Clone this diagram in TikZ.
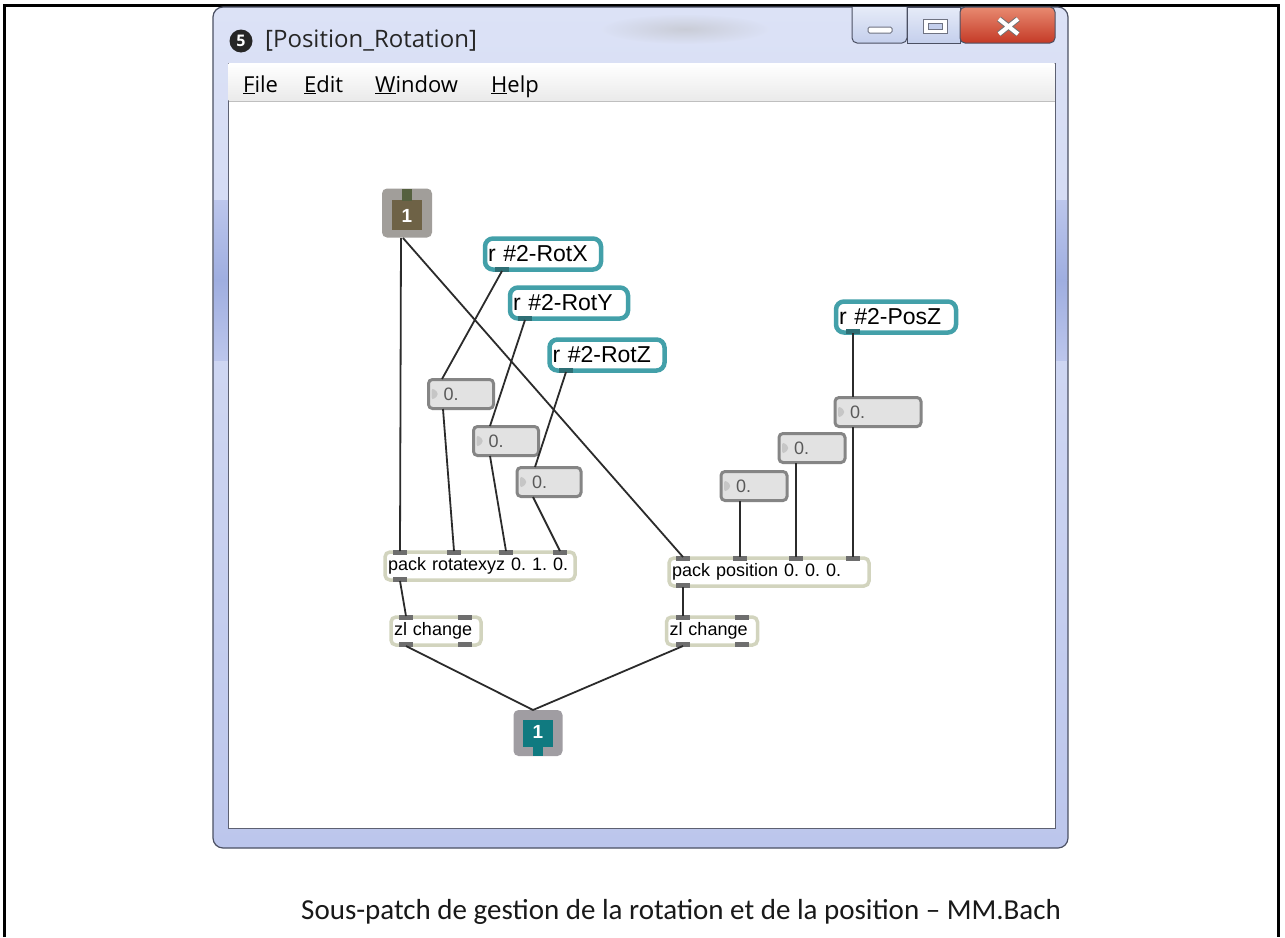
\documentclass[tikz,border=0pt]{standalone}
\usepackage{fontspec}
\setmainfont{Liberation Sans}
\newfontfamily\uifont{Open Sans}
\newfontfamily\capfont{Carlito}
\usetikzlibrary{calc}
\frenchspacing

\definecolor{frameblue}{HTML}{BCC6EC}
\definecolor{framelight}{HTML}{DCE2F6}
\definecolor{framedeep}{HTML}{9FAEE0}
\definecolor{framedark}{HTML}{4B5063}
\definecolor{cord}{HTML}{2B2B2B}
\definecolor{objborder}{HTML}{D2D4BE}
\definecolor{tabgray}{HTML}{6E6E6E}
\definecolor{recvborder}{HTML}{43A0A9}
\definecolor{recvtab}{HTML}{2E6F75}
\definecolor{numfill}{HTML}{E2E2E2}
\definecolor{numborder}{HTML}{858585}
\definecolor{numtri}{HTML}{C6C6C6}
\definecolor{inletgray}{HTML}{A19E9A}
\definecolor{inletbrown}{HTML}{6E6246}
\definecolor{inlettab}{HTML}{55603F}
\definecolor{outletgray}{HTML}{A09DA2}
\definecolor{outletteal}{HTML}{107A80}
\definecolor{closered}{HTML}{C43A27}
\definecolor{closelight}{HTML}{E88A70}
\definecolor{btnblue}{HTML}{C4CFEC}
\definecolor{btnlight}{HTML}{E6EBF8}

\newcommand\intab[1]{\fill[tabgray] ($(#1)+(-7,-1)$) rectangle ($(#1)+(7,4)$);}
\newcommand\outtab[1]{\fill[tabgray] ($(#1)+(-7,-4)$) rectangle ($(#1)+(7,1)$);}
\newcommand\recvtabat[1]{\fill[recvtab] ($(#1)+(-7,-4)$) rectangle ($(#1)+(7,1)$);}

\tikzset{
  objbox/.style={draw=objborder, line width=3.5pt, fill=white, rounded corners=5pt,
    inner xsep=3pt, inner ysep=0pt, minimum height=28pt, align=left,
    font=\fontsize{18}{18}\selectfont},
  recvbox/.style={draw=recvborder, line width=4.5pt, fill=white, rounded corners=8pt,
    inner xsep=3pt, inner ysep=0pt, minimum height=31pt, align=left,
    font=\fontsize{23}{23}\selectfont},
  numbox/.style={draw=numborder, line width=3pt, fill=numfill, rounded corners=4pt,
    inner xsep=4pt, inner ysep=0pt, minimum height=29pt, align=left,
    font=\fontsize{18}{18}\selectfont, text=black!65,
    path picture={\fill[numtri] ($(path picture bounding box.west)+(3,-7)$) -- ++(0,14) -- ++(8,-7) -- cycle;}},
  cordline/.style={draw=cord, line width=1.8pt},
  menuitem/.style={font=\uifont\fontsize{22}{22}\selectfont, anchor=base west, inner sep=0pt},
}

\begin{document}
\begin{tikzpicture}[x=1pt,y=-1pt]
\useasboundingbox (0,0) rectangle (1285,937);
\fill[white] (0,0) rectangle (1285,937);
% outer cell border (open at bottom)
\draw[black, line width=3pt] (4,937) -- (4,5) -- (1278,5) -- (1278,937);

% window frame
\draw[framedark, line width=1.2pt, rounded corners=10pt, top color=framelight, bottom color=frameblue]
  (213,7) rectangle (1068,848);
\shade[top color=frameblue, bottom color=framedeep] (214,200) rectangle (228,280);
\shade[top color=framedeep, bottom color=frameblue] (214,280) rectangle (228,360);
\shade[top color=frameblue, bottom color=framedeep] (1055,200) rectangle (1067,280);
\shade[top color=framedeep, bottom color=frameblue] (1055,280) rectangle (1067,360);
\shade[inner color=gray!55, outer color=framelight, opacity=0.5] (600,14) rectangle (770,44);

% title
\node[circle, fill=black!85, minimum size=23pt, inner sep=0pt, text=white,
  font=\uifont\bfseries\fontsize{16}{16}\selectfont] (icon) at (241,41) {5};
\node[anchor=west, inner sep=0pt, font=\uifont\fontsize{24}{24}\selectfont, text=black!85] (title) at (265,41) {[Position\_Rotation]};

% caption buttons
\draw[framedark, line width=1pt, top color=btnlight, bottom color=btnblue, rounded corners=5pt]
  (852,7) -- (852,43) -- (907,43) -- (907,7);
\draw[framedark, line width=1pt, top color=btnlight, bottom color=btnblue]
  (907,7) rectangle (960,43);
\draw[framedark, line width=1pt, top color=closelight, bottom color=closered, rounded corners=5pt]
  (960,7) -- (960,43) -- (1055,43) -- (1055,7) -- cycle;
\draw[framedark!80, fill=white, line width=1pt, rounded corners=1.5pt] (868,27) rectangle (892,33);
\draw[framedark!80, line width=1pt, fill=white] (923,19) rectangle (947,33);
\draw[framedark!80, line width=1pt, fill=btnblue] (928,23) rectangle (942,29);
\coordinate (xa) at (999,19);
\coordinate (xb) at (1018,34);
\coordinate (xc) at (1018,19);
\coordinate (xd) at (999,34);
\draw[black!55, line width=6pt] (xa) -- (xb) (xc) -- (xd);
\draw[white, line width=4pt] (xa) -- (xb) (xc) -- (xd);

% client area and menu bar
\draw[framedark!90, line width=1pt, fill=white] (228,63) rectangle (1055,828);
\shade[top color=white, bottom color=black!8] (228.5,63.5) rectangle (1054.5,100);
\draw[black!25, line width=1pt] (228.5,101) -- (1054.5,101);
\node[menuitem] (mfile) at (243,92) {\underline{F}ile};
\node[menuitem] (medit) at (304,92) {\underline{E}dit};
\node[menuitem] (mwin) at (375,92) {\underline{W}indow};
\node[menuitem] (mhelp) at (491,92) {\underline{H}elp};

% ---------- patch objects ----------
% inlet
\node[fill=inletgray, rounded corners=5pt, minimum width=50pt, minimum height=49pt, inner sep=0pt] (inlet) at (407,213) {};
\fill[inletbrown] (392,200) rectangle (422,230);
\fill[inlettab] (402,189) rectangle (412,201);
\node[text=white, font=\bfseries\fontsize{19}{19}\selectfont] (inlabel) at (407,216) {1};

% outlet
\node[fill=outletgray, rounded corners=5pt, minimum width=49pt, minimum height=46pt, inner sep=0pt] (outlet) at (538,733) {};
\fill[outletteal] (523,720) rectangle (553,747);
\fill[outletteal] (533,745) rectangle (543,756);
\node[text=white, font=\bfseries\fontsize{19}{19}\selectfont] (outlabel) at (538,732) {1};

% receive objects
\node[recvbox, text width=110pt] (rotx) at (543,254) {r \#2-RotX};
\node[recvbox, text width=112pt] (roty) at (569,303) {r \#2-RotY};
\node[recvbox, text width=109pt] (rotz) at (607,355) {r \#2-RotZ};
\node[recvbox, text width=114pt] (posz) at (896,317) {r \#2-PosZ};

% number boxes
\node[numbox, text width=57pt] (nb1) at (461,394) {\hspace*{11pt}0.};
\node[numbox, text width=57pt] (nb2) at (506,441) {\hspace*{11pt}0.};
\node[numbox, text width=56pt] (nb3) at (549,482) {\hspace*{11pt}0.};
\node[numbox, text width=78pt] (nbz) at (878,412) {\hspace*{11pt}0.};
\node[numbox, text width=58pt] (nbm) at (812,448) {\hspace*{11pt}0.};
\node[numbox, text width=58pt] (nbl) at (754,486) {\hspace*{11pt}0.};

% pack and zl boxes
\node[objbox, text width=184pt] (prx) at (480,566) {pack rotatexyz 0. 1. 0.};
\node[objbox, text width=194pt] (ppo) at (769,572) {pack position 0. 0. 0.};
\node[objbox, text width=84pt] (zll) at (436,631) {zl change};
\node[objbox, text width=85pt] (zlr) at (712,631) {zl change};

% ports (named coordinates)
\coordinate (inlet-o) at (401,238);
\coordinate (inlet-o2) at (403,238);
\coordinate (rotx-o) at (502,271);
\coordinate (roty-o) at (525,320);
\coordinate (rotz-o) at (566,372);
\coordinate (posz-o) at (853,333);
\coordinate (nb1-i) at (442,379);
\coordinate (nb2-i) at (490,426);
\coordinate (nb3-i) at (535,467);
\coordinate (nbz-i) at (853,397);
\coordinate (nb1-o) at (443,409);
\coordinate (nb2-o) at (490,456);
\coordinate (nb3-o) at (533,497);
\coordinate (nbz-o) at (853,427);
\coordinate (nbm-o) at (796,463);
\coordinate (nbl-o) at (740,501);
\coordinate (prx-i0) at (400,551);
\coordinate (prx-i1) at (454,551);
\coordinate (prx-i2) at (506,551);
\coordinate (prx-i3) at (560,551);
\coordinate (prx-o) at (400,581);
\coordinate (ppo-i0) at (683,557);
\coordinate (ppo-i1) at (740,557);
\coordinate (ppo-i2) at (796,557);
\coordinate (ppo-i3) at (853,557);
\coordinate (ppo-o) at (683,587);
\coordinate (zll-i0) at (406,616);
\coordinate (zll-i1) at (465,616);
\coordinate (zll-o0) at (406,646);
\coordinate (zll-o1) at (465,646);
\coordinate (zlr-i0) at (683,616);
\coordinate (zlr-i1) at (742,616);
\coordinate (zlr-o0) at (683,646);
\coordinate (zlr-o1) at (742,646);
\coordinate (outlet-i) at (533,710);

% tabs
\foreach \p in {prx-i0,prx-i1,prx-i2,prx-i3,ppo-i0,ppo-i1,ppo-i2,ppo-i3,zll-i0,zll-i1,zlr-i0,zlr-i1} {\intab{\p}}
\foreach \p in {prx-o,ppo-o,zll-o0,zll-o1,zlr-o0,zlr-o1} {\outtab{\p}}
\foreach \p in {rotx-o,roty-o,rotz-o,posz-o} {\recvtabat{\p}}

% cords
\draw[cordline] (inlet-o) -- (prx-i0);
\draw[cordline] (inlet-o2) -- (ppo-i0);
\draw[cordline] (rotx-o) -- (nb1-i);
\draw[cordline] (roty-o) -- (nb2-i);
\draw[cordline] (rotz-o) -- (nb3-i);
\draw[cordline] (nb1-o) -- (prx-i1);
\draw[cordline] (nb2-o) -- (prx-i2);
\draw[cordline] (nb3-o) -- (prx-i3);
\draw[cordline] (prx-o) -- (zll-i0);
\draw[cordline] (zll-o0) -- (outlet-i);
\draw[cordline] (posz-o) -- (nbz-i);
\draw[cordline] (nbz-o) -- (ppo-i3);
\draw[cordline] (nbm-o) -- (ppo-i2);
\draw[cordline] (nbl-o) -- (ppo-i1);
\draw[cordline] (ppo-o) -- (zlr-i0);
\draw[cordline] (zlr-o0) -- (outlet-i);

% caption
\node[font=\capfont\fontsize{29}{31}\selectfont, anchor=base west, inner sep=0pt, text=black!90] (caption) at (301,919) {Sous-patch de gestion de la rotation et de la position – MM.Bach};
\end{tikzpicture}
\end{document}
